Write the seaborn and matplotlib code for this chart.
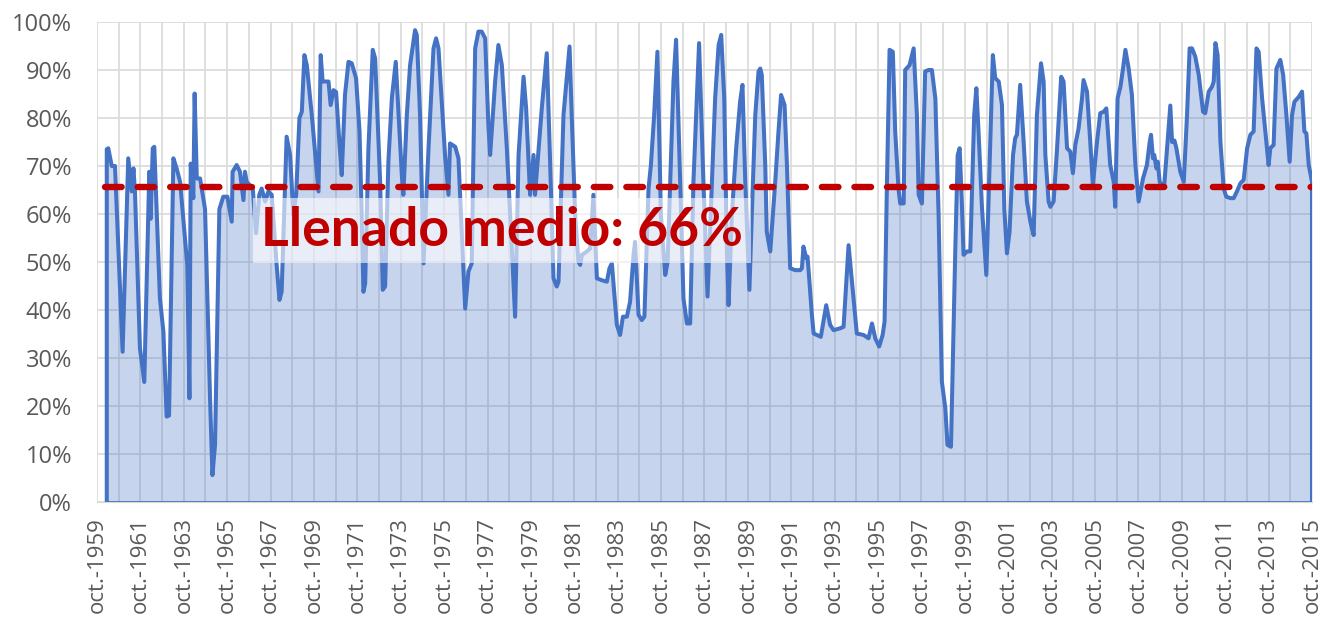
import matplotlib
matplotlib.use('Agg')
import matplotlib.pyplot as plt
import seaborn as sns
import pandas as pd

# ── Data: monthly fill level (%), decimal years ────────────────────────────
YEARS = [
    1960.20, 1960.27, 1960.43, 1960.58, 1960.93, 1961.19, 1961.35, 1961.43, 1961.50, 1961.73,
    1961.93, 1962.16, 1962.22, 1962.32, 1962.39, 1962.65, 1962.81, 1962.96, 1963.07, 1963.27,
    1963.42, 1963.58, 1963.91, 1964.01, 1964.07, 1964.19, 1964.25, 1964.35, 1964.50, 1964.73,
    1964.96, 1965.07, 1965.19, 1965.39, 1965.57, 1965.76, 1965.96, 1966.00, 1966.19, 1966.34,
    1966.50, 1966.57, 1966.65, 1966.93, 1967.08, 1967.23, 1967.34, 1967.50, 1967.65, 1967.80,
    1968.03, 1968.16, 1968.26, 1968.49, 1968.65, 1968.80, 1968.93, 1969.08, 1969.19, 1969.31,
    1969.42, 1969.65, 1969.96, 1970.06, 1970.15, 1970.31, 1970.42, 1970.52, 1970.65, 1970.77,
    1970.92, 1971.03, 1971.18, 1971.34, 1971.49, 1971.69, 1971.85, 1971.95, 1972.03, 1972.11,
    1972.26, 1972.46, 1972.57, 1972.80, 1972.92, 1973.03, 1973.18, 1973.34, 1973.52, 1973.61,
    1973.80, 1973.87, 1974.03, 1974.18, 1974.41, 1974.49, 1974.64, 1974.80, 1975.03, 1975.26,
    1975.38, 1975.49, 1975.64, 1975.79, 1975.95, 1976.02, 1976.26, 1976.41, 1976.56, 1976.72,
    1976.87, 1977.02, 1977.18, 1977.33, 1977.48, 1977.64, 1977.79, 1977.87, 1978.10, 1978.25,
    1978.41, 1978.64, 1978.87, 1979.02, 1979.18, 1979.41, 1979.53, 1979.71, 1979.87, 1979.94,
    1980.25, 1980.48, 1980.64, 1980.79, 1980.94, 1981.02, 1981.25, 1981.53, 1981.63, 1981.79,
    1981.94, 1982.02, 1982.10, 1982.33, 1982.48, 1982.63, 1982.79, 1983.02, 1983.25, 1983.37,
    1983.48, 1983.71, 1983.86, 1983.99, 1984.17, 1984.32, 1984.48, 1984.55, 1984.71, 1984.86,
    1984.98, 1985.17, 1985.28, 1985.43, 1985.58, 1985.74, 1985.94, 1986.05, 1986.32, 1986.44,
    1986.63, 1986.78, 1986.94, 1987.09, 1987.24, 1987.50, 1987.70, 1987.89, 1988.09, 1988.24,
    1988.40, 1988.52, 1988.66, 1988.78, 1988.86, 1989.01, 1989.21, 1989.39, 1989.50, 1989.63,
    1989.82, 1989.93, 1990.09, 1990.24, 1990.32, 1990.39, 1990.55, 1990.62, 1990.78, 1991.01,
    1991.16, 1991.28, 1991.44, 1991.55, 1991.70, 1991.93, 1992.16, 1992.24, 1992.31, 1992.44,
    1992.50, 1992.70, 1992.78, 1992.93, 1993.11, 1993.36, 1993.54, 1993.70, 1994.01, 1994.16,
    1994.39, 1994.62, 1994.77, 1995.08, 1995.31, 1995.47, 1995.62, 1995.80, 1995.96, 1996.05,
    1996.16, 1996.28, 1996.43, 1996.54, 1996.69, 1996.77, 1996.93, 1997.00, 1997.20, 1997.39,
    1997.54, 1997.62, 1997.77, 1997.92, 1998.08, 1998.23, 1998.39, 1998.54, 1998.69, 1998.85,
    1998.95, 1999.11, 1999.31, 1999.42, 1999.51, 1999.61, 1999.69, 1999.85, 2000.00, 2000.18,
    2000.28, 2000.38, 2000.54, 2000.74, 2000.89, 2001.04, 2001.15, 2001.31, 2001.46, 2001.57,
    2001.69, 2001.81, 2001.97, 2002.07, 2002.15, 2002.30, 2002.46, 2002.61, 2002.77, 2002.92,
    2003.07, 2003.26, 2003.38, 2003.46, 2003.61, 2003.69, 2003.84, 2004.00, 2004.19, 2004.30,
    2004.46, 2004.61, 2004.73, 2004.84, 2004.99, 2005.15, 2005.22, 2005.38, 2005.53, 2005.65,
    2005.84, 2005.99, 2006.15, 2006.27, 2006.45, 2006.61, 2006.68, 2006.79, 2006.92, 2007.04,
    2007.15, 2007.30, 2007.45, 2007.61, 2007.76, 2007.96, 2008.14, 2008.27, 2008.33, 2008.42,
    2008.48, 2008.58, 2008.64, 2008.73, 2008.84, 2008.94, 2009.07, 2009.22, 2009.30, 2009.41,
    2009.50, 2009.68, 2009.84, 2009.99, 2010.11, 2010.22, 2010.37, 2010.53, 2010.60, 2010.73,
    2010.83, 2010.99, 2011.14, 2011.22, 2011.30, 2011.40, 2011.53, 2011.68, 2011.80, 2011.99,
    2012.14, 2012.29, 2012.45, 2012.60, 2012.76, 2012.91, 2013.06, 2013.19, 2013.29, 2013.45,
    2013.60, 2013.75, 2013.83, 2013.98, 2014.11, 2014.29, 2014.42, 2014.57, 2014.72, 2014.83,
    2014.94, 2015.14, 2015.29, 2015.40, 2015.49, 2015.60, 2015.75,
]
FILL = [
    73.5, 73.7, 70.0, 70.0, 31.3, 71.6, 64.7, 69.5, 64.7, 32.0,
    25.0, 68.8, 59.0, 73.7, 74.0, 42.4, 35.5, 17.8, 18.0, 71.6,
    69.5, 66.7, 49.4, 21.6, 70.5, 63.3, 85.1, 67.4, 67.4, 61.0,
    21.6, 5.6, 11.9, 61.0, 63.6, 63.6, 58.4, 68.8, 70.2, 68.8,
    62.9, 68.8, 66.7, 65.3, 56.0, 64.0, 65.3, 62.6, 64.7, 64.0,
    49.4, 42.1, 43.8, 76.1, 72.3, 59.8, 64.0, 80.0, 81.3, 93.1,
    91.0, 80.6, 64.7, 93.1, 87.6, 87.6, 87.6, 82.7, 85.8, 85.4,
    75.0, 68.1, 84.8, 91.7, 91.4, 88.3, 77.2, 59.8, 43.8, 45.5,
    73.7, 94.2, 92.4, 66.7, 44.2, 44.9, 70.9, 84.1, 91.7, 84.1,
    68.1, 64.0, 80.6, 91.0, 98.3, 97.3, 80.6, 49.7, 73.7, 94.5,
    96.6, 94.5, 83.4, 72.3, 64.0, 74.7, 74.0, 71.6, 56.3, 40.3,
    48.0, 49.7, 94.5, 98.0, 98.0, 96.6, 78.5, 72.3, 87.6, 95.2,
    91.0, 73.7, 52.8, 38.6, 72.3, 88.6, 82.0, 64.0, 72.3, 64.0,
    82.0, 93.5, 70.0, 46.6, 44.9, 45.9, 80.6, 94.9, 80.6, 59.8,
    50.0, 49.4, 51.5, 52.2, 52.8, 64.0, 46.6, 46.2, 45.9, 48.7,
    49.7, 36.9, 34.8, 38.6, 38.6, 41.7, 51.5, 54.2, 39.0, 37.9,
    38.6, 65.3, 70.2, 80.6, 93.8, 59.8, 47.3, 50.0, 87.6, 96.3,
    66.7, 42.4, 37.2, 37.2, 66.7, 95.6, 66.7, 42.8, 66.7, 84.1,
    95.2, 97.3, 84.1, 52.8, 41.0, 59.8, 73.7, 83.4, 86.9, 66.7,
    44.2, 59.8, 80.6, 89.7, 90.3, 89.0, 70.2, 56.3, 52.2, 66.7,
    77.2, 84.8, 82.7, 70.2, 48.7, 48.3, 48.3, 48.7, 53.2, 50.8,
    51.1, 39.0, 35.1, 34.8, 34.4, 41.0, 36.9, 35.8, 36.2, 36.5,
    53.5, 42.4, 35.1, 34.8, 34.1, 37.2, 34.1, 32.4, 34.8, 37.6,
    66.7, 94.2, 93.8, 77.2, 65.3, 62.2, 62.2, 90.0, 91.0, 94.5,
    80.6, 64.0, 62.2, 89.7, 90.0, 90.0, 84.1, 59.8, 25.1, 19.5,
    11.9, 11.5, 52.8, 72.3, 73.7, 62.5, 51.5, 52.2, 52.2, 80.6,
    86.2, 77.2, 61.2, 47.3, 70.2, 93.1, 88.3, 87.6, 82.7, 61.0,
    51.8, 56.3, 72.3, 75.8, 76.5, 86.9, 75.0, 62.6, 58.4, 55.6,
    80.6, 91.4, 87.6, 72.3, 62.6, 61.5, 62.6, 73.7, 88.6, 87.6,
    73.7, 73.0, 68.5, 74.4, 77.8, 84.1, 87.9, 85.5, 75.0, 66.0,
    75.0, 81.0, 81.3, 82.0, 70.2, 66.7, 61.5, 84.1, 86.5, 90.3,
    94.2, 90.3, 84.8, 70.2, 62.6, 67.4, 70.2, 75.0, 76.5, 71.6,
    72.3, 69.5, 70.9, 66.7, 66.0, 66.0, 73.7, 82.6, 75.0, 75.3,
    73.7, 68.8, 66.7, 80.6, 94.5, 94.5, 92.8, 89.0, 86.2, 81.3,
    81.0, 85.5, 86.5, 87.6, 95.6, 93.1, 75.0, 65.3, 63.6, 63.3,
    63.3, 64.7, 66.4, 67.1, 73.7, 76.5, 77.2, 94.5, 93.8, 84.1,
    77.2, 70.2, 73.7, 74.4, 90.3, 92.1, 89.0, 80.6, 70.9, 80.6,
    83.4, 84.4, 85.5, 77.2, 76.8, 70.2, 66.7,
]
MEAN_FILL = 65.6
MEAN_LABEL = 'Llenado medio: 66%'
LABEL_YEARS = list(range(1959, 2016, 2))
TICK_LABELS = [f'oct.-{y}' for y in LABEL_YEARS]
Y_TICKS = list(range(0, 101, 10))

BLUE = '#4472C4'
RED = '#C00000'
GRID = '#D9D9D9'
TEXT = '#595959'

sns.set_style('white')
plt.rcParams['font.family'] = ['Open Sans', 'DejaVu Sans']

fig = plt.figure(figsize=(13.36, 6.37), dpi=100)
ax = fig.add_axes([97 / 1336, 1 - 502 / 637, (1312 - 97) / 1336, (502 - 22) / 637])

# area + outline (vertical edges included like the Excel area series)
df = pd.DataFrame({'year': [YEARS[0]] + YEARS + [YEARS[-1]],
                   'pct': [0] + FILL + [0]})
ax.fill_between(YEARS, FILL, 0, color=BLUE, alpha=0.3, lw=0, zorder=2)
sns.lineplot(data=df, x='year', y='pct', sort=False, estimator=None,
             color=BLUE, lw=2.9, ax=ax, zorder=3)
ax.plot([YEARS[0], YEARS[-1]], [0, 0], color=BLUE, lw=1.2, zorder=3)

# mean line
ax.plot([YEARS[0] - 0.1, YEARS[-1]], [MEAN_FILL, MEAN_FILL], color=RED, lw=4.6,
        ls=(0, (2.6, 2.5)), dash_capstyle='round', zorder=4)
ax.text(1978.42, 56.6, MEAN_LABEL, ha='center', va='center', fontsize=38.5,
        fontweight='bold', color=RED, family=['Lato', 'DejaVu Sans'], zorder=5,
        bbox=dict(boxstyle='square,pad=0.15', fc='white', ec='none', alpha=0.6))

# axes
ax.set_xlim(1959.75, 2015.75)
ax.set_ylim(0, 100)
ax.set_xticks([y + 0.75 for y in LABEL_YEARS], TICK_LABELS)
ax.set_xticks([y + 0.75 for y in range(1960, 2016, 2)], minor=True)
ax.set_yticks(Y_TICKS, [f'{v}%' for v in Y_TICKS])
ax.set_xlabel('')
ax.set_ylabel('')
ax.set_axisbelow(True)
ax.grid(which='both', axis='x', color=GRID, lw=1.2)
ax.grid(which='major', axis='y', color=GRID, lw=1.2)
for s in ['top', 'right', 'left']:
    ax.spines[s].set_visible(False)
ax.spines['bottom'].set_color(GRID)
ax.tick_params(axis='x', which='major', length=6, width=1.2, color='#BFBFBF',
               rotation=90, labelsize=16, labelcolor=TEXT, pad=5)
ax.tick_params(axis='x', which='minor', length=5, width=1.2, color='#BFBFBF')
ax.tick_params(axis='y', length=0, labelsize=17, labelcolor=TEXT, pad=18)

plt.savefig('out.png', dpi=100)
plt.close()
